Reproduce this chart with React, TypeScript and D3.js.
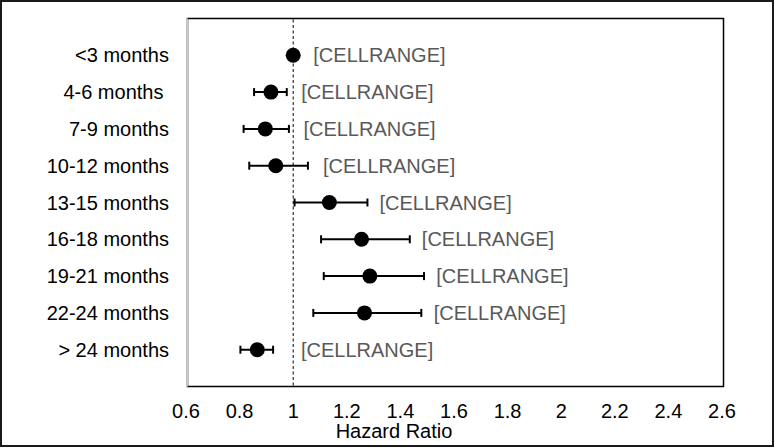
import React from "react";
import * as d3 from "d3";

const categories = [
  "<3 months",
  "4-6 months ",
  "7-9 months",
  "10-12 months",
  "13-15 months",
  "16-18 months",
  "19-21 months",
  "22-24 months",
  "> 24 months",
];
const hazard = [1.0, 0.917, 0.896, 0.935, 1.135, 1.255, 1.286, 1.266, 0.866];
const lower = [1.0, 0.854, 0.815, 0.836, 1.005, 1.104, 1.114, 1.075, 0.803];
const upper = [1.0, 0.976, 0.984, 1.055, 1.277, 1.435, 1.488, 1.478, 0.925];
const pointLabels = Array(9).fill("[CELLRANGE]");
const labelAt = [1.075, 1.03, 1.038, 1.111, 1.322, 1.48, 1.534, 1.524, 1.029];
const xTicks = [0.6, 0.8, 1, 1.2, 1.4, 1.6, 1.8, 2, 2.2, 2.4, 2.6];
const xTitle = "Hazard Ratio";
const referenceValue = 1;

const W = 775;
const H = 448;
const plot = { left: 187.5, top: 18.5, right: 723.5, bottom: 386.5 };
const FONT = "Arial, 'Liberation Sans', sans-serif";
const FS = 20;

export default function App() {
  const x = d3.scaleLinear().domain([0.6, 2.6]).range([186, 722]);
  const y = d3
    .scalePoint<string>()
    .domain(categories)
    .range([plot.top, plot.bottom])
    .padding(1);
  const cap = 4;

  return (
    <svg
      width={W}
      height={H}
      style={{ position: "absolute", left: 0, top: 0, background: "#fff" }}
      fontFamily={FONT}
    >
      <rect x={0} y={0} width={W} height={H} fill="#fff" />
      <rect
        x={1}
        y={1}
        width={772}
        height={445}
        fill="none"
        stroke="#1a1a1a"
        strokeWidth={2}
      />
      {/* plot border */}
      <rect
        x={plot.left}
        y={plot.top}
        width={plot.right - plot.left}
        height={plot.bottom - plot.top}
        fill="#fff"
        stroke="#000"
        strokeWidth={1.5}
      />
      <line
        x1={plot.left}
        x2={plot.left}
        y1={plot.top}
        y2={plot.bottom}
        stroke="#c8c8c8"
        strokeWidth={1.5}
      />
      {/* reference line */}
      <line
        x1={x(referenceValue)}
        x2={x(referenceValue)}
        y1={plot.top + 1}
        y2={plot.bottom - 1}
        stroke="#000"
        strokeWidth={1}
        strokeDasharray="3,2.5"
      />
      {/* category labels */}
      {categories.map((c) => (
        <text
          key={c}
          x={169}
          y={y(c)}
          dy="0.35em"
          textAnchor="end"
          fontSize={FS}
          fill="#000"
          style={{ whiteSpace: "pre" }}
        >
          {c}
        </text>
      ))}
      {/* error bars and points */}
      {categories.map((c, i) => {
        const cy = y(c) as number;
        const hasBar = upper[i] - lower[i] > 0.001;
        return (
          <g key={"p" + i}>
            {hasBar && (
              <g stroke="#000" strokeWidth={2}>
                <line x1={x(lower[i])} x2={x(upper[i])} y1={cy} y2={cy} />
                <line x1={x(lower[i])} x2={x(lower[i])} y1={cy - cap} y2={cy + cap} />
                <line x1={x(upper[i])} x2={x(upper[i])} y1={cy - cap} y2={cy + cap} />
              </g>
            )}
            <circle cx={x(hazard[i])} cy={cy} r={7.5} fill="#000" />
            <text
              x={x(labelAt[i])}
              y={cy}
              dy="0.35em"
              fontSize={FS}
              fill="#595959"
            >
              {pointLabels[i]}
            </text>
          </g>
        );
      })}
      {/* x tick labels */}
      {xTicks.map((t) => (
        <text
          key={t}
          x={x(t)}
          y={418}
          textAnchor="middle"
          fontSize={FS}
          fill="#000"
        >
          {d3.format("~g")(t)}
        </text>
      ))}
      <text x={394} y={438} textAnchor="middle" fontSize={FS} fill="#000">
        {xTitle}
      </text>
    </svg>
  );
}
